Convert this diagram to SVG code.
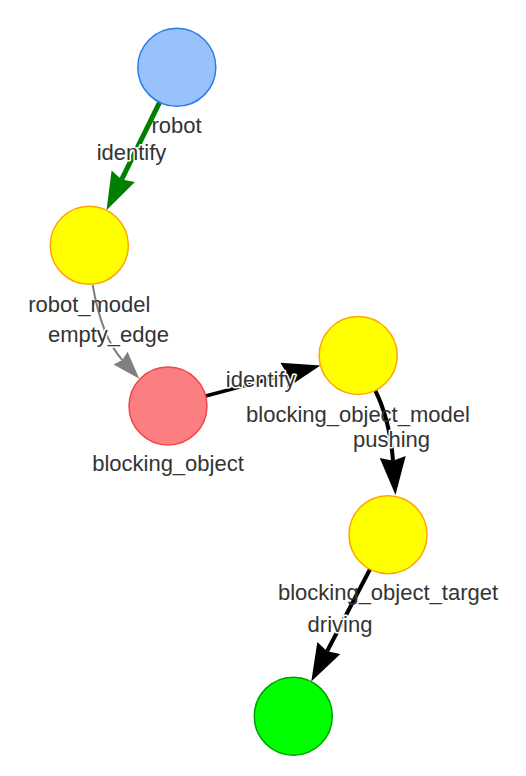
<svg xmlns="http://www.w3.org/2000/svg" width="526" height="776" viewBox="0 0 526 776">
<style>
  text { font-family: "Liberation Sans", Arial, sans-serif; font-size: 22px; fill: #343434; text-anchor: middle; }
  .elabel { stroke: #ffffff; stroke-width: 3px; paint-order: stroke; stroke-linejoin: round; }
  .edge { fill: none; stroke-linecap: butt; }
  .yellow { fill: #ffff00; stroke: #ffa500; stroke-width: 1.5; }
</style>
<defs>
  <marker id="ah-green" markerUnits="userSpaceOnUse" markerWidth="44" markerHeight="32" viewBox="0 -16 44 32" refX="3.8" refY="0" orient="auto">
    <path d="M38,0 L0,-13 L3.8,0 L0,13 Z" fill="#008000"/>
  </marker>
  <marker id="ah-black" markerUnits="userSpaceOnUse" markerWidth="44" markerHeight="32" viewBox="0 -16 44 32" refX="3.8" refY="0" orient="auto">
    <path d="M38,0 L0,-13 L3.8,0 L0,13 Z" fill="#000000"/>
  </marker>
  <marker id="ah-gray" markerUnits="userSpaceOnUse" markerWidth="32" markerHeight="24" viewBox="0 -12 32 24" refX="2.8" refY="0" orient="auto">
    <path d="M28,0 L0,-9.5 L2.8,0 L0,9.5 Z" fill="#808080"/>
  </marker>
</defs>

<g id="edges">
  <path class="edge" d="M159.6,102.3 L121.6,179.6" stroke="#008000" stroke-width="5" marker-end="url(#ah-green)"/>
  <path class="edge" d="M92.7,285 Q101.5,337 122.4,360.1" stroke="#808080" stroke-width="2" marker-end="url(#ah-gray)"/>
  <path class="edge" d="M205.7,396 L287.4,374.3" stroke="#000000" stroke-width="3.5" marker-end="url(#ah-black)"/>
  <path class="edge" d="M375,390 Q390,420 393,460.8" stroke="#000000" stroke-width="4" marker-end="url(#ah-black)"/>
  <path class="edge" d="M370,569.3 L327.1,651.3" stroke="#000000" stroke-width="4" marker-end="url(#ah-black)"/>
</g>

<g id="node-robot">
  <circle cx="176.8" cy="67.3" r="39" fill="#97c2fc" stroke="#2b7ce9" stroke-width="1.5"/>
  <text x="176.5" y="133.3">robot</text>
</g>
<g id="node-robot_model">
  <circle class="yellow" cx="89.3" cy="245.3" r="39"/>
  <text x="89.3" y="311.7">robot_model</text>
</g>
<g id="node-blocking_object">
  <circle cx="168" cy="406" r="39" fill="#fb7e81" stroke="#f0464b" stroke-width="1.5"/>
  <text x="168" y="471">blocking_object</text>
</g>
<g id="node-blocking_object_model">
  <circle class="yellow" cx="358.2" cy="355.5" r="39"/>
  <text x="358" y="422">blocking_object_model</text>
</g>
<g id="node-blocking_object_target">
  <circle class="yellow" cx="388" cy="534.7" r="39"/>
  <text x="388" y="600">blocking_object_target</text>
</g>
<g id="node-target">
  <circle cx="293.3" cy="716.2" r="39" fill="#00ff00" stroke="#00a000" stroke-width="1.5"/>
</g>

<g id="edge-labels">
  <text class="elabel" x="131.5" y="160">identify</text>
  <text class="elabel" x="108.5" y="341.7">empty_edge</text>
  <text class="elabel" x="260.7" y="386.7">identify</text>
  <text class="elabel" x="391.5" y="446.7">pushing</text>
  <text class="elabel" x="340" y="631.7">driving</text>
</g>
</svg>
